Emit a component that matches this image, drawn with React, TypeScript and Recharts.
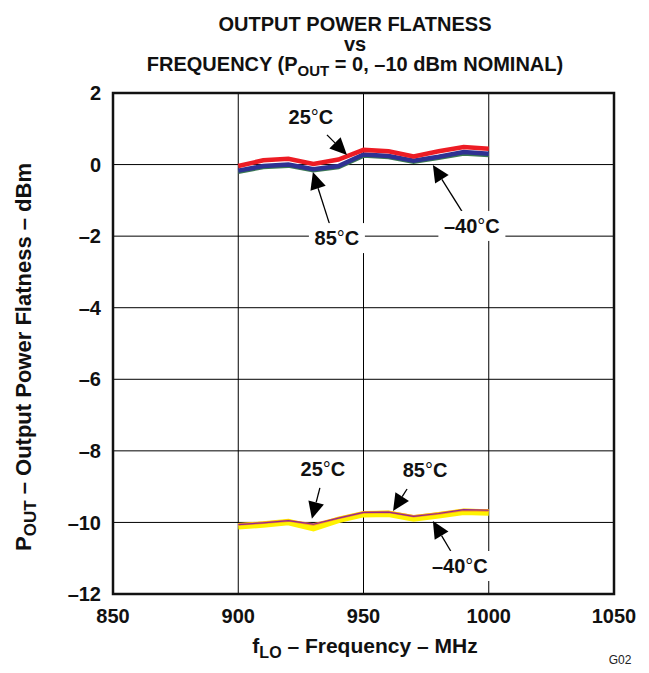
import React from "react";
import {
  LineChart,
  Line,
  XAxis,
  YAxis,
  CartesianGrid,
  ReferenceArea,
  ReferenceDot,
} from "recharts";

const freqs = [900, 910, 920, 930, 940, 950, 960, 970, 980, 990, 1000];
const up25 = [-0.04, 0.12, 0.16, 0.02, 0.14, 0.41, 0.37, 0.23, 0.37, 0.49, 0.44];
const up85 = [-0.17, -0.04, 0.0, -0.13, -0.04, 0.28, 0.24, 0.11, 0.22, 0.35, 0.3];
const upM40 = [-0.2, -0.07, -0.03, -0.16, -0.07, 0.25, 0.21, 0.08, 0.19, 0.31, 0.27];
const lo25 = [-10.06, -10.01, -9.95, -10.06, -9.88, -9.72, -9.71, -9.83, -9.75, -9.65, -9.67];
const lo85 = [-10.06, -10.01, -9.95, -10.05, -9.88, -9.72, -9.71, -9.83, -9.75, -9.64, -9.66];
const loM40 = [-10.11, -10.06, -9.99, -10.16, -9.93, -9.77, -9.76, -9.89, -9.8, -9.7, -9.72];

const xTicks = [850, 900, 950, 1000, 1050];
const yTicks = [-12, -10, -8, -6, -4, -2, 0, 2];

// annotations: anchor (arrow tip) in data units, offsets in px
const annotations = [
  { x: 943.4, y: 0.27, text: "25", sx: -20, sy: -20, lx: -36, ly: -38 },
  { x: 929.8, y: -0.21, text: "85", sx: 17, sy: 53, lx: 24, ly: 66 },
  { x: 977.7, y: -0.01, text: "–40", sx: 30, sy: 48, lx: 39, ly: 61 },
  { x: 929.4, y: -9.9, text: "25", sx: 8, sy: -31, lx: 11, ly: -50 },
  { x: 961.8, y: -9.68, text: "85", sx: 14, sy: -22, lx: 32, ly: -41 },
  { x: 977.7, y: -9.96, text: "–40", sx: 19, sy: 32, lx: 27, ly: 45 },
];

const data = freqs.map((f, i) => ({
  f,
  up25: up25[i],
  up85: up85[i],
  upM40: upM40[i],
  lo25: lo25[i],
  lo85: lo85[i],
  loM40: loM40[i],
}));

const FONT = "'Liberation Sans', Arial, Helvetica, sans-serif";

const Annot = (props: any) => {
  const { cx, cy, a } = props;
  if (cx == null || cy == null) return null;
  const sx = cx + a.sx;
  const sy = cy + a.sy;
  const dx = cx - sx;
  const dy = cy - sy;
  const len = Math.sqrt(dx * dx + dy * dy);
  const ux = dx / len;
  const uy = dy / len;
  const headL = 17;
  const headW = 8;
  const bx = cx - ux * headL;
  const by = cy - uy * headL;
  const px = -uy;
  const py = ux;
  const lx = cx + a.lx;
  const ly = cy + a.ly;
  const w = a.text.length * 11 + 34;
  return (
    <g>
      <line x1={sx} y1={sy} x2={bx} y2={by} stroke="#000" strokeWidth={1.3} />
      <polygon
        points={`${cx},${cy} ${bx + px * headW},${by + py * headW} ${bx - px * headW},${by - py * headW}`}
        fill="#000"
      />
      <rect x={lx - w / 2} y={ly - 15} width={w} height={30} fill="#fff" />
      <text
        x={lx}
        y={ly + 7}
        textAnchor="middle"
        fontFamily={FONT}
        fontWeight="bold"
        fontSize={20}
        fill="#111"
      >
        {a.text}
        <tspan fontWeight="normal">°</tspan>C
      </text>
    </g>
  );
};

const fmtY = (v: number) => (v < 0 ? "–" + Math.abs(v) : String(v));

export default function App() {
  return (
    <div style={{ position: "relative", width: 641, height: 665, fontFamily: FONT }}>
      <LineChart
        width={641}
        height={665}
        data={data}
        margin={{ top: 85, right: 35, bottom: 39, left: 45 }}
      >
        <CartesianGrid stroke="#000" strokeWidth={1} />
        <XAxis
          dataKey="f"
          type="number"
          domain={[850, 1050]}
          ticks={xTicks}
          tickLine={false}
          axisLine={false}
          tickMargin={9}
          height={40}
          tick={{ fill: "#111", fontSize: 20, fontWeight: "bold", fontFamily: FONT }}
        />
        <YAxis
          type="number"
          domain={[-12, 2]}
          ticks={yTicks}
          tickFormatter={fmtY}
          tickLine={false}
          axisLine={false}
          tickMargin={6}
          width={60}
          tick={{ fill: "#111", fontSize: 20, fontWeight: "bold", fontFamily: FONT }}
        />
        {annotations.map((a, i) => (
          <ReferenceDot
            key={i}
            x={a.x}
            y={a.y}
            r={0}
            ifOverflow="visible"
            shape={(p: any) => <Annot {...p} a={a} />}
          />
        ))}
        <ReferenceArea
          x1={850}
          x2={1050}
          y1={-12}
          y2={2}
          fill="none"
          stroke="#111"
          strokeWidth={2.5}
          ifOverflow="visible"
        />
        <Line dataKey="upM40" stroke="#3B7A52" strokeWidth={4.5} dot={false} isAnimationActive={false} />
        <Line dataKey="up85" stroke="#2E3192" strokeWidth={4.5} dot={false} isAnimationActive={false} />
        <Line dataKey="up25" stroke="#ED1C24" strokeWidth={4.5} dot={false} isAnimationActive={false} />
        <Line dataKey="loM40" stroke="#FFF200" strokeWidth={6.5} dot={false} isAnimationActive={false} />
        <Line dataKey="lo25" stroke="#F7941D" strokeWidth={2.5} dot={false} isAnimationActive={false} />
        <Line dataKey="lo85" stroke="#92278F" strokeWidth={1.2} dot={false} isAnimationActive={false} />
      </LineChart>
      <svg
        width={641}
        height={665}
        style={{ position: "absolute", left: 0, top: 0, pointerEvents: "none" }}
      >
        <g fontFamily={FONT} fontWeight="bold" fill="#111" textAnchor="middle" fontSize={20}>
          <text x={347} y={23}>OUTPUT POWER FLATNESS</text>
          <text x={347} y={43}>vs</text>
          <text x={347} y={63}>
            FREQUENCY (P<tspan fontSize={15} dy={5}>OUT</tspan>
            <tspan dy={-5}> = 0, –10 dBm NOMINAL)</tspan>
          </text>
          <text x={357} y={645} fontSize={21}>
            f<tspan fontSize={16} dy={5}>LO</tspan>
            <tspan dy={-5}> – Frequency – MHz</tspan>
          </text>
          <text transform="translate(23,349) rotate(-90)" fontSize={22}>
            P<tspan fontSize={17} dy={5}>OUT</tspan>
            <tspan dy={-5}> – Output Power Flatness – dBm</tspan>
          </text>
        </g>
        <text x={612} y={656} fontFamily={FONT} fontSize={12} fill="#222" textAnchor="middle">
          G02
        </text>
      </svg>
    </div>
  );
}
